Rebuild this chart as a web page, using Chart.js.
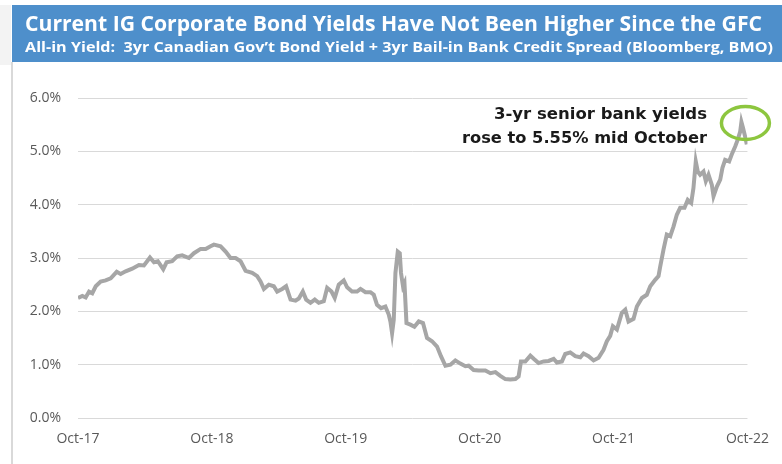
<!DOCTYPE html>
<html lang="en">
<head>
<meta charset="UTF-8">
<title>IG Corporate Bond Yields</title>
<script src="https://cdn.jsdelivr.net/npm/chart.js"></script>
<style>
  html, body { margin: 0; padding: 0; background: #fff; }
  #wrap { width: 782px; height: 464px; position: relative; }
</style>
</head>
<body>
<div id="wrap"><canvas id="yieldChart" width="782" height="464"></canvas></div>
<script>
// months since Oct-17 and all-in yield (%)
const months = [
  0, 0.39, 0.69, 0.99, 1.28, 1.59, 2.03, 2.48, 2.93, 3.47, 3.82, 4.27, 4.86, 5.46, 5.91,
  6.45, 6.81, 7.16, 7.64, 7.94, 8.44, 8.89, 9.34, 9.94, 10.39, 10.99, 11.44, 11.88, 12.18, 12.78,
  13.23, 13.67, 14.12, 14.57, 15.02, 15.61, 16.06, 16.36, 16.66, 17.10, 17.55, 17.85, 18.30, 18.65,
  19.05, 19.50, 19.79, 20.15, 20.45, 20.84, 21.22, 21.58, 22.03, 22.33, 22.72, 23.01, 23.37, 23.82,
  24.12, 24.56, 25.01, 25.32, 25.76, 26.21, 26.51, 26.80, 27.16, 27.55, 27.85, 28.00, 28.15, 28.30,
  28.45, 28.66, 28.84, 28.95, 29.13, 29.26, 29.44, 29.79, 30.15, 30.54, 30.92, 31.28, 31.73, 32.18,
  32.53, 32.93, 33.38, 33.82, 34.27, 34.72, 35.01, 35.46, 35.91, 36.51, 36.96, 37.41, 37.85, 38.30,
  38.75, 39.20, 39.49, 39.70, 40.09, 40.54, 40.84, 41.28, 41.73, 42.18, 42.63, 42.92, 43.37, 43.67,
  44.12, 44.57, 45.02, 45.31, 45.76, 46.21, 46.66, 47.10, 47.40, 47.70, 47.94, 48.30, 48.74, 49.05,
  49.34, 49.79, 50.09, 50.54, 50.98, 51.29, 51.73, 52.03, 52.18, 52.48, 52.77, 53.08, 53.37, 53.67,
  53.97, 54.36, 54.65, 54.96, 55.16, 55.37, 55.55, 55.76, 56.06, 56.27, 56.51, 56.81, 56.96, 57.26,
  57.56, 57.76, 58.00, 58.36, 58.59, 58.90, 59.13, 59.35, 59.46, 59.60, 59.79, 59.94
];
const yields = [
  2.25, 2.29, 2.26, 2.37, 2.34, 2.47, 2.56, 2.58, 2.62, 2.74, 2.70, 2.75, 2.80, 2.87, 2.86,
  3.01, 2.92, 2.94, 2.79, 2.92, 2.94, 3.03, 3.05, 3.00, 3.09, 3.17, 3.17, 3.22, 3.25, 3.22,
  3.12, 3.00, 3.00, 2.94, 2.76, 2.72, 2.66, 2.56, 2.42, 2.50, 2.47, 2.37, 2.42, 2.47,
  2.22, 2.20, 2.24, 2.37, 2.22, 2.16, 2.22, 2.16, 2.19, 2.44, 2.37, 2.25, 2.50, 2.58,
  2.45, 2.37, 2.37, 2.42, 2.36, 2.36, 2.31, 2.12, 2.06, 2.09, 1.94, 1.81, 1.59, 1.84,
  2.72, 3.12, 3.09, 2.72, 2.47, 2.53, 1.78, 1.75, 1.71, 1.81, 1.78, 1.50, 1.44, 1.34,
  1.16, 0.98, 1.00, 1.08, 1.02, 0.97, 0.98, 0.90, 0.89, 0.89, 0.84, 0.86, 0.79, 0.73,
  0.72, 0.73, 0.78, 1.06, 1.06, 1.17, 1.11, 1.03, 1.06, 1.07, 1.11, 1.04, 1.06, 1.20,
  1.23, 1.16, 1.14, 1.21, 1.16, 1.08, 1.13, 1.28, 1.44, 1.54, 1.72, 1.66, 1.97, 2.03,
  1.81, 1.86, 2.09, 2.25, 2.31, 2.47, 2.59, 2.66, 2.84, 3.16, 3.44, 3.41, 3.59, 3.81,
  3.94, 3.94, 4.09, 4.03, 4.31, 4.81, 4.62, 4.56, 4.62, 4.44, 4.56, 4.37, 4.16, 4.34,
  4.47, 4.69, 4.84, 4.81, 4.94, 5.09, 5.22, 5.37, 5.55, 5.44, 5.28, 5.13
];
const xTickLabels = ["Oct-17", "Oct-18", "Oct-19", "Oct-20", "Oct-21", "Oct-22"];
const titleText = "Current IG Corporate Bond Yields Have Not Been Higher Since the GFC";
const subtitleText = "All-in Yield:  3yr Canadian Gov\u2019t Bond Yield + 3yr Bail-in Bank Credit Spread (Bloomberg, BMO)";
const noteLines = ["3-yr senior bank yields", "rose to 5.55% mid October"];

const points = months.map((m, i) => ({ x: m, y: yields[i] }));

// text squeezed or stretched to a given width
function fitText(c, text, x, y, w) {
  const m = c.measureText(text).width;
  c.save();
  c.translate(x, y);
  c.scale(w / m, 1);
  c.fillText(text, 0, 0);
  c.restore();
}

// header band, left border, note and circle
const decor = {
  id: "decor",
  beforeDraw(chart) {
    const c = chart.ctx;
    c.save();
    c.fillStyle = "#fff";
    c.fillRect(0, 0, chart.width, chart.height);
    c.fillStyle = "#f3f3f3";
    c.fillRect(0, 5, 11, 60);
    c.fillStyle = "#d9d9d9";
    c.fillRect(11, 62, 2, chart.height - 62);
    c.fillStyle = "#4e8fcb";
    c.fillRect(12, 5, chart.width - 12, 57);
    c.fillStyle = "#fff";
    c.textBaseline = "alphabetic";
    c.font = "bold 21px 'Open Sans'";
    fitText(c, titleText, 25, 31, 737);
    c.font = "bold 14px 'Open Sans'";
    fitText(c, subtitleText, 25, 52, 748);
    c.restore();
  },
  afterDatasetsDraw(chart) {
    const c = chart.ctx;
    const xs = chart.scales.x, ys = chart.scales.y;
    c.save();
    c.fillStyle = "#1a1a1a";
    c.textAlign = "left";
    c.font = "bold 16px 'DejaVu Sans'";
    fitText(c, noteLines[0], 494, 119, 213);
    fitText(c, noteLines[1], 462, 143, 245);
    // circle round the peak
    let pk = 0;
    yields.forEach((v, i) => { if (v > yields[pk]) pk = i; });
    const cx = xs.getPixelForValue(months[pk]) + 4;
    const cy = ys.getPixelForValue(yields[pk]) + 1;
    c.strokeStyle = "#8dc63f";
    c.lineWidth = 3.5;
    c.beginPath();
    c.ellipse(cx, cy, 24, 16.5, 0, 0, Math.PI * 2);
    c.stroke();
    c.restore();
  }
};

new Chart(document.getElementById("yieldChart"), {
  type: "line",
  data: {
    datasets: [{
      data: points,
      borderColor: "#a6a6a6",
      borderWidth: 4,
      pointRadius: 0,
      tension: 0,
      fill: false
    }]
  },
  options: {
    responsive: false,
    animation: false,
    parsing: false,
    layout: { padding: { top: 98, right: 33, left: 0, bottom: 0 } },
    plugins: { legend: { display: false }, tooltip: { enabled: false } },
    scales: {
      x: {
        type: "linear",
        min: 0,
        max: 60,
        afterFit: s => { s.height = 46; },
        afterBuildTicks: s => { s.ticks = xTickLabels.map((_, i) => ({ value: i * 12 })); },
        ticks: {
          padding: 13,
          color: "#595959",
          font: { family: "'Open Sans'", size: 14 },
          maxRotation: 0,
          callback: (v) => xTickLabels[Math.round(v / 12)]
        },
        grid: { display: false, drawTicks: false },
        border: { display: false }
      },
      y: {
        min: 0,
        max: 6,
        afterFit: s => { s.width = 78; },
        ticks: {
          stepSize: 1,
          padding: 17,
          color: "#595959",
          font: { family: "'Open Sans'", size: 14 },
          callback: v => v.toFixed(1) + "%"
        },
        grid: { color: "#d9d9d9", lineWidth: 1, drawTicks: false },
        border: { display: false }
      }
    }
  },
  plugins: [decor]
});
</script>
</body>
</html>
